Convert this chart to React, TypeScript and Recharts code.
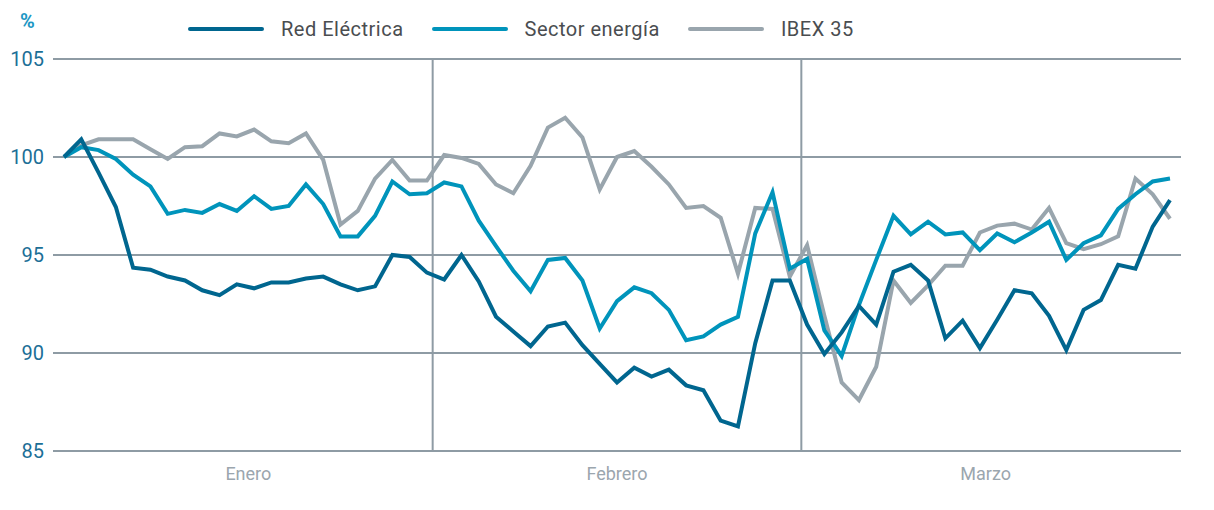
import React from 'react'
import {
  LineChart,
  Line,
  XAxis,
  YAxis,
  CartesianGrid,
  ReferenceLine,
} from 'recharts'

// base 100 = first trading day of January
const redElectrica = [
  100, 100.9, 99.2, 97.45, 94.35, 94.25, 93.9, 93.7, 93.2, 92.95, 93.5,
  93.3, 93.6, 93.6, 93.8, 93.9, 93.5, 93.2, 93.4, 95.0, 94.9, 94.1,
  93.75, 95.0, 93.65, 91.85, 91.1, 90.35, 91.35, 91.55, 90.4, 89.45,
  88.5, 89.25, 88.8, 89.15, 88.35, 88.1, 86.55, 86.25, 90.5, 93.7,
  93.7, 91.45, 89.95, 91.05, 92.4, 91.45, 94.15, 94.5, 93.7, 90.75,
  91.65, 90.25, 91.7, 93.2, 93.05, 91.9, 90.15, 92.2, 92.7, 94.5,
  94.3, 96.45, 97.8,
]
const sectorEnergia = [
  100, 100.5, 100.35, 99.9, 99.1, 98.5, 97.1, 97.3, 97.15, 97.6, 97.25,
  98.0, 97.35, 97.5, 98.6, 97.6, 95.95, 95.95, 97.0, 98.75, 98.1, 98.15,
  98.7, 98.5, 96.75, 95.45, 94.2, 93.15, 94.75, 94.85, 93.7, 91.25,
  92.65, 93.35, 93.05, 92.2, 90.65, 90.85, 91.45, 91.85, 96.1, 98.2,
  94.3, 94.8, 91.15, 89.85, 92.45, 94.75, 97.0, 96.05, 96.7, 96.05,
  96.15, 95.25, 96.1, 95.65, 96.15, 96.7, 94.75, 95.6, 96.0, 97.35,
  98.1, 98.75, 98.9,
]
const ibex35 = [
  100, 100.6, 100.9, 100.9, 100.9, 100.4, 99.9, 100.5, 100.55, 101.2,
  101.05, 101.4, 100.8, 100.7, 101.2, 99.85, 96.55, 97.25, 98.9, 99.85,
  98.8, 98.8, 100.1, 99.95, 99.65, 98.6, 98.15, 99.55, 101.5, 102.0,
  101.0, 98.35, 100.0, 100.3, 99.5, 98.6, 97.4, 97.5, 96.9, 94.05,
  97.4, 97.35, 93.9, 95.5, 91.9, 88.5, 87.6, 89.3, 93.7, 92.55, 93.45,
  94.45, 94.45, 96.15, 96.5, 96.6, 96.3, 97.4, 95.6, 95.3, 95.55,
  95.95, 98.9, 98.1, 96.85,
]
const months = ['Enero', 'Febrero', 'Marzo']
const yTicks = [85, 90, 95, 100, 105]

const data = redElectrica.map((v, i) => ({
  day: i,
  red: v,
  sector: sectorEnergia[i],
  ibex: ibex35[i],
}))

const last = redElectrica.length - 1
const monthTicks = months.map((_, i) => (last * (2 * i + 1)) / 6)
const monthBounds = [last / 3, (2 * last) / 3]

const C_RED = '#00668f'
const C_SECTOR = '#0094bb'
const C_IBEX = '#99a5ad'
const C_GRID = '#8e9ba4'

const legendItems = [
  { label: 'Red Eléctrica', color: C_RED },
  { label: 'Sector energía', color: C_SECTOR },
  { label: 'IBEX 35', color: C_IBEX },
]

function ChartLegend() {
  return (
    <div style={{ position: 'absolute', left: 188, top: 17, display: 'flex', alignItems: 'center' }}>
      {legendItems.map((it) => (
        <div key={it.label} style={{ display: 'flex', alignItems: 'center', marginRight: 28 }}>
          <span
            style={{
              display: 'inline-block',
              width: 76,
              height: 4,
              borderRadius: 2,
              background: it.color,
              marginRight: 17,
            }}
          />
          <span style={{ fontFamily: 'Roboto', fontSize: 20, color: '#4a4d50', letterSpacing: 0.5 }}>
            {it.label}
          </span>
        </div>
      ))}
    </div>
  )
}

export default function App() {
  return (
    <div style={{ position: 'absolute', left: 0, top: 0, width: 1214, height: 510, background: '#fff' }}>
      <div
        style={{
          position: 'absolute',
          left: 20,
          top: 9,
          fontFamily: 'Roboto',
          fontWeight: 700,
          fontSize: 20,
          color: '#1d97c4',
        }}
      >
        %
      </div>
      <ChartLegend />
      <LineChart
        width={1214}
        height={510}
        data={data}
        margin={{ top: 59, right: 33, bottom: 0, left: 8 }}
      >
        <CartesianGrid vertical={false} stroke={C_GRID} strokeWidth={2} />
        <XAxis
          dataKey="day"
          type="number"
          domain={[0, last]}
          padding={{ left: 11, right: 11 }}
          ticks={monthTicks}
          tickFormatter={(_, i) => months[i]}
          axisLine={false}
          tickLine={false}
          tickSize={0}
          tickMargin={16}
          height={59}
          tick={{ fill: '#9ba6ae', fontSize: 18, fontFamily: 'Roboto' }}
        />
        <YAxis
          domain={[85, 105]}
          ticks={yTicks}
          axisLine={false}
          tickLine={false}
          tickSize={0}
          tickMargin={9}
          width={45}
          tick={{ fill: '#1c6f97', fontSize: 20, fontFamily: 'Roboto' }}
        />
        {monthBounds.map((x) => (
          <ReferenceLine key={x} x={x} stroke={C_GRID} strokeWidth={2} />
        ))}
        <Line
          type="linear"
          dataKey="ibex"
          stroke={C_IBEX}
          strokeWidth={4}
          dot={false}
          isAnimationActive={false}
        />
        <Line
          type="linear"
          dataKey="sector"
          stroke={C_SECTOR}
          strokeWidth={4}
          dot={false}
          isAnimationActive={false}
        />
        <Line
          type="linear"
          dataKey="red"
          stroke={C_RED}
          strokeWidth={4}
          dot={false}
          isAnimationActive={false}
        />
      </LineChart>
    </div>
  )
}
